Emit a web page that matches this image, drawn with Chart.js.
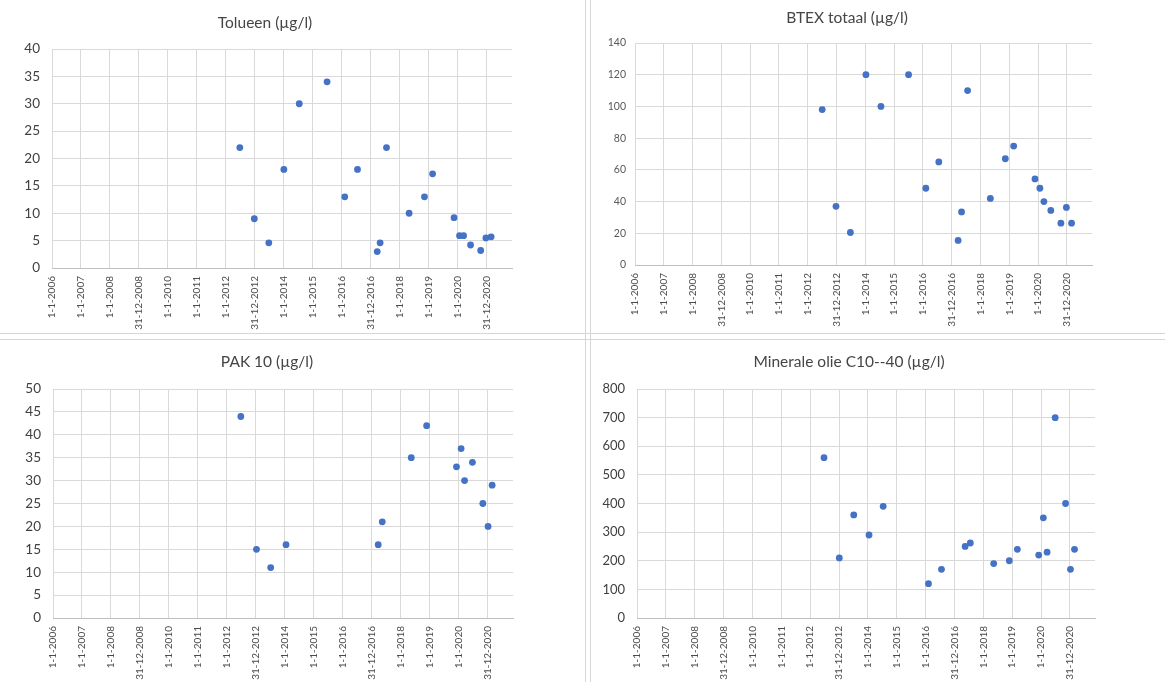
<!DOCTYPE html>
<html><head><meta charset="utf-8">
<script src="https://cdn.jsdelivr.net/npm/chart.js@4.4.0/dist/chart.umd.min.js"></script>
<style>
html,body{margin:0;padding:0;background:#fff;}
body{width:1165px;height:682px;position:relative;overflow:hidden;}
canvas{position:absolute;}
.sep{position:absolute;box-sizing:border-box;}
</style></head><body>
<div class="sep" style="left:0;top:333px;width:1165px;height:7px;border-top:1px solid #d6d6d6;border-bottom:1px solid #d6d6d6;"></div>
<div class="sep" style="left:585px;top:0;width:6px;height:682px;border-left:1px solid #d6d6d6;border-right:1px solid #d6d6d6;"></div>
<canvas id="c1" width="583" height="333" style="left:0;top:0"></canvas>
<canvas id="c2" width="574" height="333" style="left:591px;top:0"></canvas>
<canvas id="c3" width="583" height="342" style="left:0;top:340px"></canvas>
<canvas id="c4" width="574" height="342" style="left:591px;top:340px"></canvas>
<script>
const xTickLabels = ['1-1-2006','1-1-2007','1-1-2008','31-12-2008','1-1-2010','1-1-2011','1-1-2012','31-12-2012','1-1-2014','1-1-2015','1-1-2016','31-12-2016','1-1-2018','1-1-2019','1-1-2020','31-12-2020'];

// sample dates as decimal years
const tolueenDates = [2012.48,2012.98,2013.48,2014.0,2014.53,2015.49,2016.1,2016.54,2017.22,2017.32,2017.54,2018.32,2018.85,2019.13,2019.87,2020.06,2020.2,2020.44,2020.79,2020.97,2021.15];
const tolueenValues = [22,9,4.6,18,30,34,13,18,3,4.6,22,10,13,17.2,9.2,5.9,5.9,4.2,3.2,5.5,5.7];

const btexDates = [2012.5,2012.98,2013.48,2014.02,2014.54,2015.5,2016.1,2016.55,2017.22,2017.34,2017.55,2018.34,2018.86,2019.15,2019.89,2020.06,2020.2,2020.44,2020.79,2020.98,2021.16];
const btexValues = [98,37,20.5,120,100,120,48.4,65,15.5,33.5,110,42,67,75,54.3,48.4,40,34.4,26.4,36.3,26.4];

const pakDates = [2012.48,2013.02,2013.51,2014.04,2017.22,2017.36,2018.36,2018.89,2019.92,2020.08,2020.2,2020.47,2020.83,2021.01,2021.15];
const pakValues = [44,15,11,16,16,21,35,42,33,37,30,34,25,20,29];

const olieDates = [2012.48,2013.01,2013.51,2014.04,2014.53,2016.1,2016.55,2017.37,2017.55,2018.36,2018.9,2019.18,2019.92,2020.08,2020.21,2020.49,2020.85,2021.02,2021.16];
const olieValues = [560,210,360,290,390,120,170,250,262,190,200,240,220,350,230,700,400,170,240];

const titlePlugin = {
  id: 'ttl',
  afterDraw(chart, args, o) {
    const ctx = chart.ctx;
    ctx.save();
    ctx.font = o.font;
    ctx.fillStyle = '#454545';
    ctx.textAlign = 'center';
    ctx.textBaseline = 'middle';
    ctx.fillText(o.text, o.x, o.y);
    ctx.restore();
  }
};

function makeChart(id, dates, values, P) {
  return new Chart(document.getElementById(id), {
    type: 'scatter',
    data: { datasets: [{
      data: dates.map((d, i) => ({ x: d, y: values[i] })),
      backgroundColor: '#4472C4', borderColor: '#4472C4', borderWidth: 0,
      pointRadius: 3.4, pointHoverRadius: 3.4
    }]},
    options: {
      responsive: false, animation: false, devicePixelRatio: 1,
      layout: { padding: { top: P.top, right: P.right, left: 0, bottom: 0 } },
      plugins: {
        legend: { display: false }, tooltip: { enabled: false }, title: { display: false },
        ttl: { text: P.title, x: P.tx, y: P.ty, font: P.tfont }
      },
      scales: {
        x: {
          type: 'linear', min: 2006, max: 2021.87,
          afterFit: s => { s.height = P.xh; },
          grid: { color: '#d9d9d9', drawTicks: false },
          border: { color: '#bfbfbf' },
          ticks: {
            stepSize: 1, includeBounds: false, autoSkip: false,
            maxRotation: 90, minRotation: 90, padding: 8,
            font: { family: 'Lato', size: 10 }, color: '#4a4a4a',
            callback: v => xTickLabels[Math.round(v - 2006)]
          }
        },
        y: {
          min: 0, max: P.ymax,
          afterFit: s => { s.width = P.yw; },
          grid: { color: '#d9d9d9', drawTicks: false },
          border: { display: false },
          ticks: { stepSize: P.ystep, padding: P.ypad, font: { family: 'Lato', size: P.yfs }, color: P.ycol }
        }
      }
    },
    plugins: [titlePlugin]
  });
}

makeChart('c1', tolueenDates, tolueenValues, {top:49, right:71, xh:65, yw:52, ymax:40, ystep:5, ypad:12, yfs:13.5, ycol:'#404040', title:'Tolueen (µg/l)', tx:265, ty:23, tfont:'15.5px Lato'});
makeChart('c2', btexDates, btexValues, {top:43, right:73, xh:68, yw:44, ymax:140, ystep:20, ypad:9, yfs:10.5, ycol:'#595959', title:'BTEX totaal (µg/l)', tx:256, ty:18, tfont:'15.5px Lato'});
makeChart('c3', pakDates, pakValues, {top:49, right:70, xh:64, yw:53, ymax:50, ystep:5, ypad:12, yfs:13.5, ycol:'#404040', title:'PAK 10 (µg/l)', tx:267, ty:22, tfont:'15.5px Lato'});
makeChart('c4', olieDates, olieValues, {top:49, right:70, xh:64, yw:46, ymax:800, ystep:100, ypad:12, yfs:13, ycol:'#404040', title:'Minerale olie C10--40 (µg/l)', tx:258, ty:22, tfont:'15.5px Lato'});
</script>
</body></html>
